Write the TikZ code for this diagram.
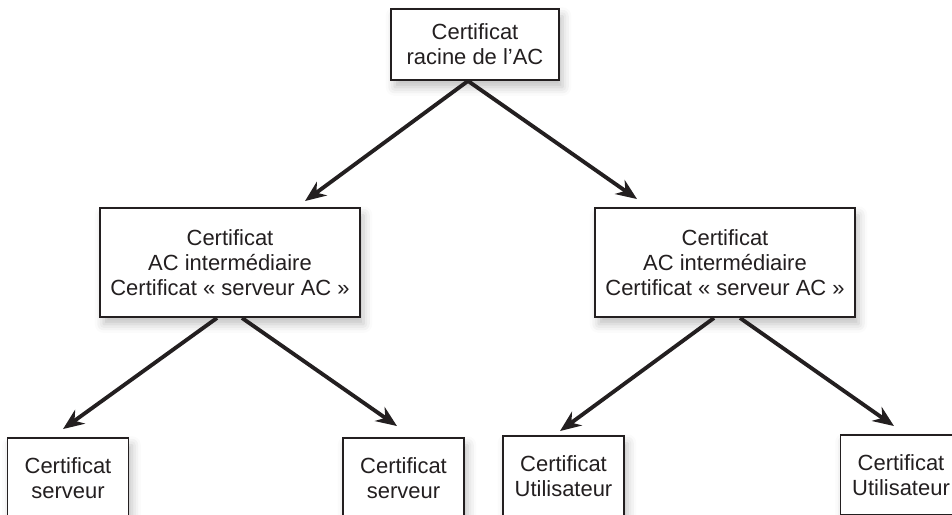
\documentclass[tikz,border=0pt]{standalone}
\usepackage{fontspec}
\setmainfont{Liberation Sans}
\usepackage{tikz}
\usetikzlibrary{arrows.meta}
\usetikzlibrary{shadows.blur}
\definecolor{encre}{HTML}{231F20}

\begin{document}
\begin{tikzpicture}[>={Stealth[length=0.42cm,width=0.34cm]},x=0.02cm,y=-0.02cm,
    boite/.style={draw=encre,line width=1.1pt,fill=white,align=center,inner sep=0pt,
        text=encre,font=\fontsize{12.5}{14.2}\selectfont,
        blur shadow={shadow xshift=2pt,shadow yshift=-4pt,shadow blur radius=5pt,shadow opacity=25}},
    fleche/.style={->,draw=encre,line width=2.2pt}]
    \useasboundingbox (0,0) rectangle (952,514);

    % 根证书
    \node[boite,minimum width=3.36cm,minimum height=1.42cm] (racine) at (475,44.5)
        {Certificat\\racine de l’AC};

    % 中间证书
    \node[boite,minimum width=5.2cm,minimum height=2.18cm] (acgauche) at (230,262.5)
        {Certificat\\AC intermédiaire\\Certificat « serveur AC »};
    \node[boite,minimum width=5.2cm,minimum height=2.18cm] (acdroite) at (725,262.5)
        {Certificat\\AC intermédiaire\\Certificat « serveur AC »};

    % 末端证书
    \node[boite,minimum width=2.42cm,minimum height=1.6cm] (serveurA) at (68,478)
        {Certificat\\serveur};
    \node[boite,minimum width=2.42cm,minimum height=1.6cm] (serveurB) at (403.5,478)
        {Certificat\\serveur};
    \node[boite,minimum width=2.42cm,minimum height=1.6cm] (utilA) at (563.5,476)
        {Certificat\\Utilisateur};
    \node[boite,minimum width=2.42cm,minimum height=1.6cm] (utilB) at (901,475)
        {Certificat\\Utilisateur};

    % 箭头
    \draw[fleche] ([xshift=-0.14cm]racine.south) -- ([xshift=1.5cm,yshift=0.12cm]acgauche.north);
    \draw[fleche] ([xshift=-0.14cm]racine.south) -- ([xshift=-1.76cm,yshift=0.16cm]acdroite.north);
    \draw[fleche] ([xshift=-0.26cm]acgauche.south) -- ([xshift=-0.1cm,yshift=0.16cm]serveurA.north);
    \draw[fleche] ([xshift=0.24cm]acgauche.south) -- ([xshift=-0.13cm,yshift=0.22cm]serveurB.north);
    \draw[fleche] ([xshift=-0.22cm]acdroite.south) -- ([xshift=-0.07cm,yshift=0.08cm]utilA.north);
    \draw[fleche] ([xshift=0.3cm]acdroite.south) -- ([xshift=-0.14cm,yshift=0.16cm]utilB.north);
\end{tikzpicture}
\end{document}
